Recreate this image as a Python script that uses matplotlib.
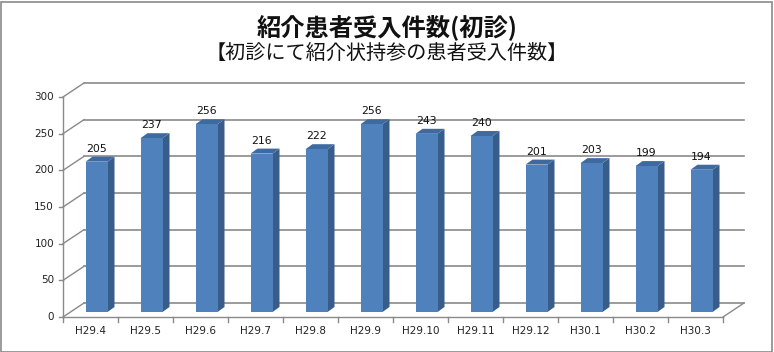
import matplotlib
matplotlib.use("Agg")
import matplotlib.pyplot as plt
from matplotlib.patches import Polygon, Rectangle
from matplotlib.lines import Line2D

categories = ["H29.4", "H29.5", "H29.6", "H29.7", "H29.8", "H29.9",
              "H29.10", "H29.11", "H29.12", "H30.1", "H30.2", "H30.3"]
values = [205, 237, 256, 216, 222, 256, 243, 240, 201, 203, 199, 194]
yticks = [0, 50, 100, 150, 200, 250, 300]
title = "紹介患者受入件数(初診)"
subtitle = "【初診にて紹介状持参の患者受入件数】"

W, H, DPI = 774, 352, 100
fig = plt.figure(figsize=(W / DPI, H / DPI), dpi=DPI)
fig.patch.set_facecolor("white")

# front plane of the 3D box, pixel placement
left, right, bottom, top = 63, 723, 317, 97
ax = fig.add_axes([left / W, (H - bottom) / H, (right - left) / W, (bottom - top) / H])
ax.set_xlim(0, len(categories))
ax.set_ylim(0, 300)
ax.axis("off")

px_x = len(categories) / (right - left)   # data units per pixel (x)
px_y = 300 / (bottom - top)               # data units per pixel (y)

# depth offsets (in pixels -> data)
back_dx, back_dy = 21 * px_x, 14 * px_y
face_dx, face_dy = 6 * px_x, 5 * px_y
side_dx, side_dy = 7 * px_x, 5 * px_y
bar_w = 22 * px_x

grid_c = "#8a8a8a"
n = len(categories)

# back wall gridlines and left wall diagonals
for v in yticks:
    ax.add_line(Line2D([back_dx, n + back_dx], [v + back_dy, v + back_dy],
                       color=grid_c, lw=1.2, clip_on=False, zorder=1))
    ax.add_line(Line2D([0, back_dx], [v, v + back_dy],
                       color=grid_c, lw=1.0, clip_on=False, zorder=1))
# floor right edge
ax.add_line(Line2D([n, n + back_dx], [0, back_dy], color=grid_c, lw=1.0, clip_on=False, zorder=1))

# axes lines
ax.add_line(Line2D([0, 0], [0, 300], color=grid_c, lw=1.0, clip_on=False, zorder=2))
ax.add_line(Line2D([0, n], [0, 0], color=grid_c, lw=1.0, clip_on=False, zorder=2))

# ticks
tick_len_x = 5 * px_y
for i in range(n + 1):
    ax.add_line(Line2D([i, i], [0, -tick_len_x], color=grid_c, lw=1.0, clip_on=False, zorder=2))
tick_len_y = 4 * px_x
for v in yticks:
    ax.add_line(Line2D([-tick_len_y, 0], [v, v], color=grid_c, lw=1.0, clip_on=False, zorder=2))
    ax.text(-9 * px_x, v, str(v), ha="right", va="center", fontsize=7.5,
            family="DejaVu Sans", color="#222222")

front_c, side_c, top_c = "#4F81BD", "#385D8A", "#3F6AA0"

for i, (cat, v) in enumerate(zip(categories, values)):
    cx = i + 0.5 + face_dx
    x0 = cx - bar_w / 2
    x1 = cx + bar_w / 2
    # front face
    ax.bar(cx, v, width=bar_w, bottom=face_dy, color=front_c, edgecolor="none",
           zorder=4, clip_on=False)
    yb, yt = face_dy, face_dy + v
    # side face
    ax.add_patch(Polygon([(x1, yb), (x1 + side_dx, yb + side_dy), (x1 + side_dx, yt + side_dy), (x1, yt)],
                         closed=True, facecolor=side_c, edgecolor="none", zorder=3, clip_on=False))
    # top face
    ax.add_patch(Polygon([(x0, yt), (x1, yt), (x1 + side_dx, yt + side_dy), (x0 + side_dx, yt + side_dy)],
                         closed=True, facecolor=top_c, edgecolor="none", zorder=3, clip_on=False))
    ax.text(cx, yt + 13 * px_y, str(v), ha="center", va="center", fontsize=7.8,
            family="DejaVu Sans", color="#111111", zorder=5)
    ax.text(i + 0.5, -14 * px_y, cat, ha="center", va="center", fontsize=7.5,
            family="DejaVu Sans", color="#222222")

fig.text(0.5, 1 - 27 / H, title, ha="center", va="center", fontsize=17.5, fontweight="bold",
         family=["Noto Sans CJK JP", "DejaVu Sans"], color="#111111")
fig.text(0.5, 1 - 53 / H, subtitle, ha="center", va="center", fontsize=14.5,
         family=["Noto Sans CJK JP", "DejaVu Sans"], color="#111111")

# outer border
fig.add_artist(Rectangle((0.5 / W, 0.5 / H), 1 - 2.2 / W, 1 - 2.2 / H, transform=fig.transFigure,
                         fill=False, edgecolor="#8a8a8a", lw=1.2))

fig.savefig("out.png", dpi=DPI)
